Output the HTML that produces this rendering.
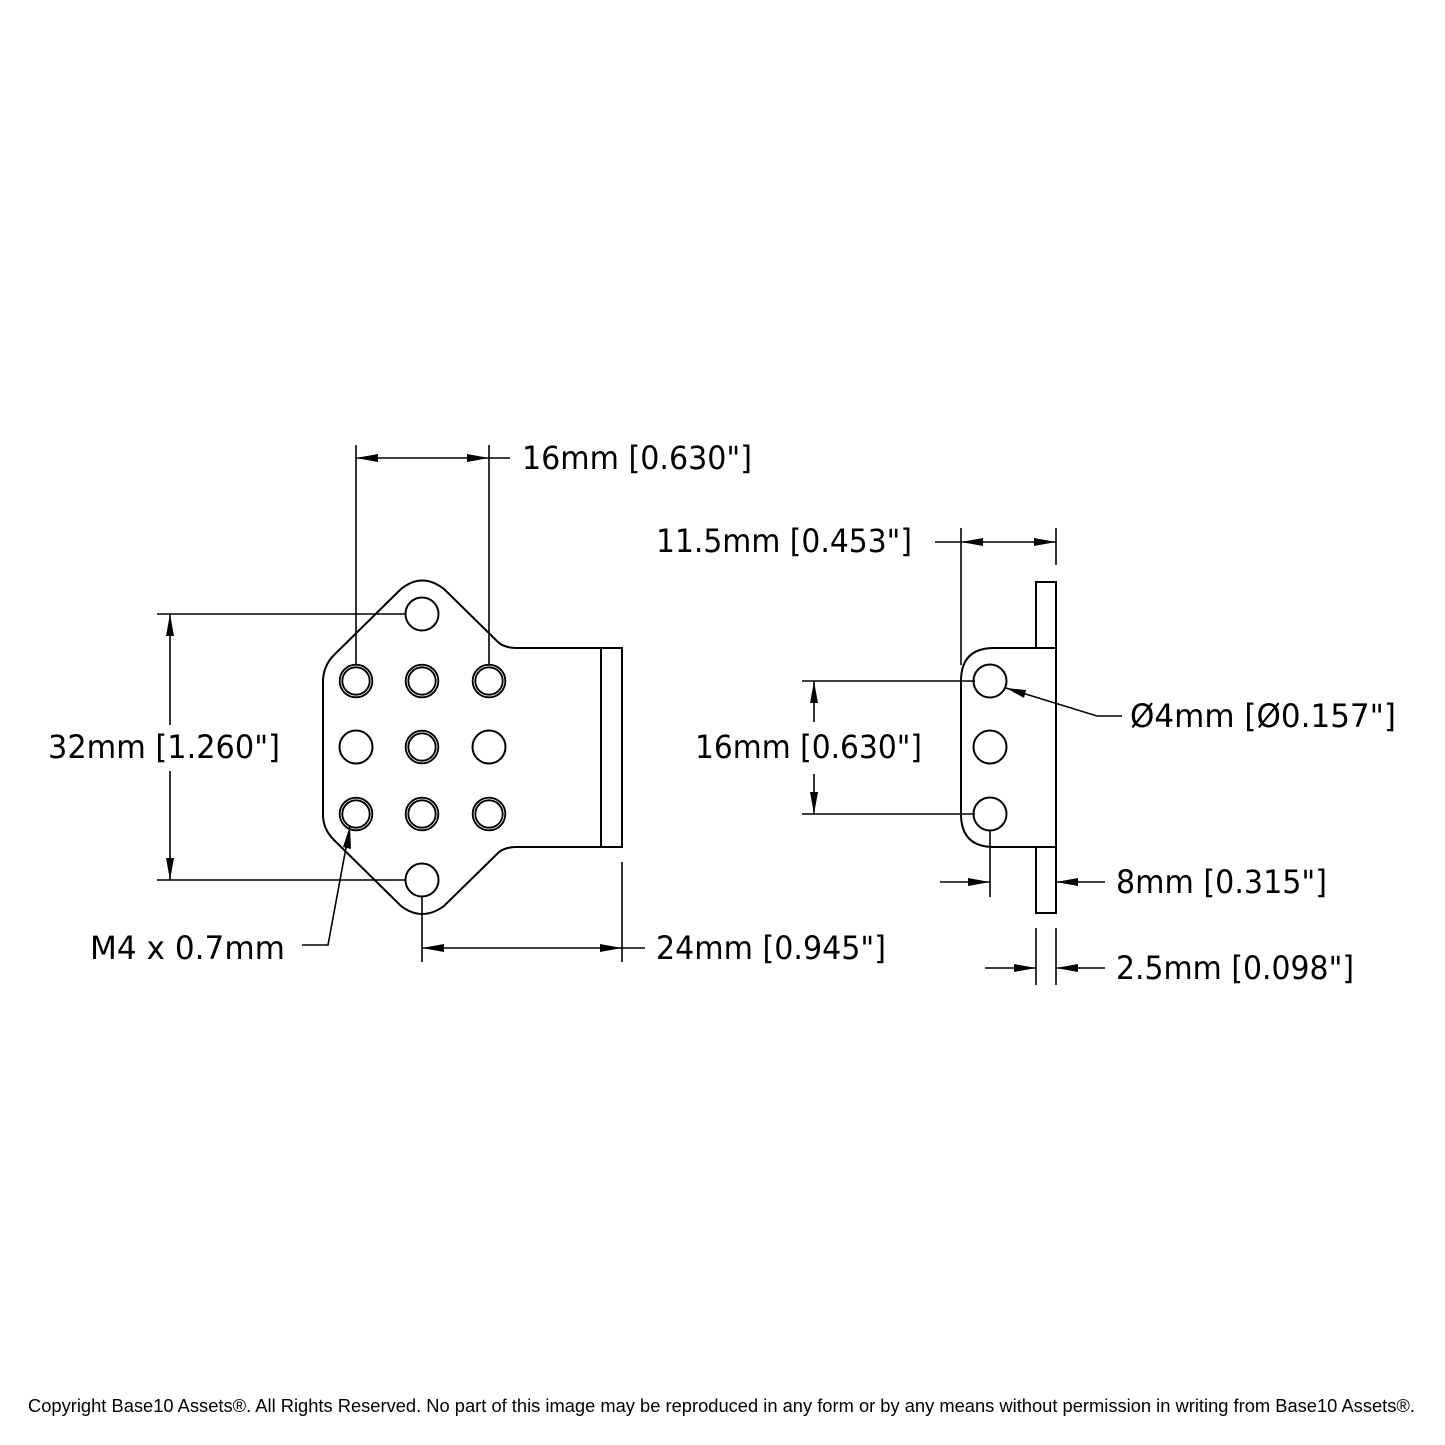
<!DOCTYPE html>
<html><head><meta charset="utf-8"><style>html,body{margin:0;padding:0;background:#fff}svg{display:block}</style></head>
<body>
<svg width="1445" height="1445" viewBox="0 0 1445 1445" xmlns="http://www.w3.org/2000/svg">
<g fill="none" stroke="#000" stroke-width="2">
<path d="M323,682 Q323,666 334,655 L401,589 Q422,572 444,589 L499,643 Q506,648 516,648 L622,648 L622,847 L516,847 Q506,847 499,852 L444,906 Q422,922 401,906 L334,840 Q323,829 323,815 Z"/>
<line x1="601" y1="648" x2="601" y2="847"/>
<circle cx="422" cy="614" r="16.5"/>
<circle cx="422" cy="880" r="16.5"/>
<circle cx="356" cy="747" r="16.5"/>
<circle cx="489" cy="747" r="16.5"/>
</g>
<g fill="none" stroke="#000" stroke-width="4.5">
<circle cx="356" cy="681" r="15"/><circle cx="422" cy="681" r="15"/><circle cx="489" cy="681" r="15"/>
<circle cx="422" cy="747" r="15"/>
<circle cx="356" cy="814" r="15"/><circle cx="422" cy="814" r="15"/><circle cx="489" cy="814" r="15"/>
</g>
<g fill="none" stroke="#fff" stroke-width="0.8">
<circle cx="356" cy="681" r="15"/><circle cx="422" cy="681" r="15"/><circle cx="489" cy="681" r="15"/>
<circle cx="422" cy="747" r="15"/>
<circle cx="356" cy="814" r="15"/><circle cx="422" cy="814" r="15"/><circle cx="489" cy="814" r="15"/>
</g>
<g fill="none" stroke="#000" stroke-width="2">
<path d="M1036,648 L1036,582 L1056,582 L1056,913 L1036,913 L1036,847"/>
<path d="M1056,648 L994,648 Q961,648 961,681 L961,814 Q961,847 994,847 L1056,847"/>
<circle cx="990" cy="681" r="16.5"/>
<circle cx="990" cy="747" r="16.5"/>
<circle cx="990" cy="814" r="16.5"/>
</g>
<g stroke="#000" stroke-width="1.6" fill="none">
<line x1="356" y1="445" x2="356" y2="665"/>
<line x1="489" y1="445" x2="489" y2="665"/>
<line x1="356" y1="458" x2="510" y2="458"/>
<line x1="157" y1="614" x2="405" y2="614"/>
<line x1="157" y1="880" x2="405" y2="880"/>
<line x1="170" y1="614" x2="170" y2="725"/>
<line x1="170" y1="771" x2="170" y2="880"/>
<line x1="422" y1="897" x2="422" y2="962"/>
<line x1="622" y1="862" x2="622" y2="962"/>
<line x1="422" y1="948" x2="645" y2="948"/>
<polyline points="350,826 328,945 302,945"/>
<line x1="961" y1="528" x2="961" y2="665"/>
<line x1="1056" y1="528" x2="1056" y2="565"/>
<line x1="935" y1="542" x2="1056" y2="542"/>
<line x1="802" y1="681" x2="975" y2="681"/>
<line x1="802" y1="814" x2="975" y2="814"/>
<line x1="814" y1="681" x2="814" y2="722"/>
<line x1="814" y1="774" x2="814" y2="814"/>
<polyline points="1006,688 1097,716 1122,716"/>
<line x1="990" y1="830" x2="990" y2="897"/>
<line x1="940" y1="882" x2="990" y2="882"/>
<line x1="1056" y1="882" x2="1105" y2="882"/>
<line x1="1036" y1="928" x2="1036" y2="985"/>
<line x1="1056" y1="928" x2="1056" y2="985"/>
<line x1="985" y1="968" x2="1036" y2="968"/>
<line x1="1056" y1="968" x2="1105" y2="968"/>
</g>
<g fill="#000">
<polygon points="356,458 378,454 378,462"/>
<polygon points="489,458 467,454 467,462"/>
<polygon points="170,614 166,636 174,636"/>
<polygon points="170,880 166,858 174,858"/>
<polygon points="422,948 444,944 444,952"/>
<polygon points="622,948 600,944 600,952"/>
<polygon points="350,826 343,847 351,849"/>
<polygon points="961,542 983,538 983,546"/>
<polygon points="1056,542 1034,538 1034,546"/>
<polygon points="814,681 810,703 818,703"/>
<polygon points="814,814 810,792 818,792"/>
<polygon points="1006,688 1026,690 1024,698"/>
<polygon points="990,882 968,878 968,886"/>
<polygon points="1056,882 1078,878 1078,886"/>
<polygon points="1036,968 1014,964 1014,972"/>
<polygon points="1056,968 1078,964 1078,972"/>
</g>
<g font-family="'DejaVu Sans','Liberation Sans',sans-serif" font-size="32" fill="#000">
<text x="522" y="469" textLength="230" lengthAdjust="spacingAndGlyphs">16mm [0.630"]</text>
<text x="656" y="552" textLength="256" lengthAdjust="spacingAndGlyphs">11.5mm [0.453"]</text>
<text x="48" y="758" textLength="232" lengthAdjust="spacingAndGlyphs">32mm [1.260"]</text>
<text x="695" y="758" textLength="227" lengthAdjust="spacingAndGlyphs">16mm [0.630"]</text>
<text x="1130" y="727" textLength="266" lengthAdjust="spacingAndGlyphs">Ø4mm [Ø0.157"]</text>
<text x="1116" y="893" textLength="211" lengthAdjust="spacingAndGlyphs">8mm [0.315"]</text>
<text x="90" y="959" textLength="195" lengthAdjust="spacingAndGlyphs">M4 x 0.7mm</text>
<text x="656" y="959" textLength="230" lengthAdjust="spacingAndGlyphs">24mm [0.945"]</text>
<text x="1116" y="979" textLength="238" lengthAdjust="spacingAndGlyphs">2.5mm [0.098"]</text>
</g>
<text x="28" y="1412" font-family="'Liberation Sans',sans-serif" font-size="18" fill="#000" textLength="1387" lengthAdjust="spacingAndGlyphs">Copyright Base10 Assets®.  All Rights Reserved. No part of this image may be reproduced in any form or by any means without permission in writing from Base10 Assets®.</text>
</svg>
</body></html>
